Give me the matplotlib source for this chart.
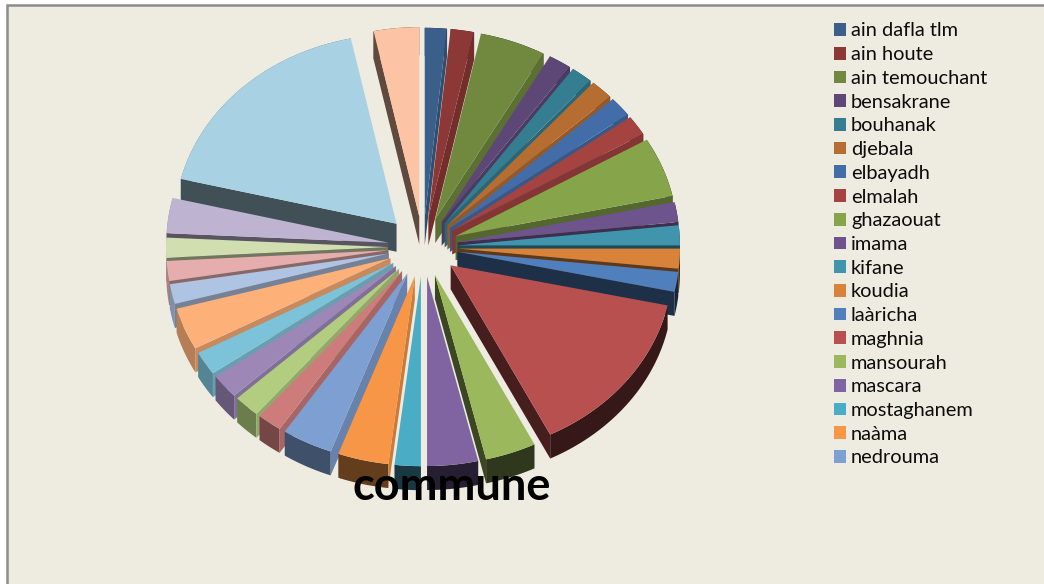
import numpy as np
import matplotlib
matplotlib.use("Agg")
import matplotlib.pyplot as plt
from matplotlib.colors import to_rgb
from matplotlib.patches import Polygon, Rectangle

W, H = 1044, 584

legend_names = ["ain dafla tlm", "ain houte", "ain temouchant", "bensakrane", "bouhanak",
                "djebala", "elbayadh", "elmalah", "ghazaouat", "imama", "kifane", "koudia",
                "laàricha", "maghnia", "mansourah", "mascara", "mostaghanem", "naàma", "nedrouma"]
values = [1.6, 1.7, 4.8, 1.7, 1.6, 1.7, 1.7, 1.7, 5.1, 1.7, 1.7, 1.7, 1.7, 14.2, 3.7, 3.7, 1.9, 3.7, 3.7,
          1.8, 1.9, 2.1, 2.0, 3.6, 1.7, 1.7, 1.7, 3.0, 17.9, 3.3]
colors = ["#3a5f8b", "#8c3836", "#71893f", "#5c4776", "#357d91", "#b66d31",
          "#426da9", "#a44340", "#86a44a", "#6e548d", "#4095ad", "#d88339",
          "#4f7fbc", "#b85050", "#9bb85c", "#8064a2", "#4bacc6", "#f79646",
          "#7e9fd2", "#cd7b7b", "#b2cd7f", "#9c87b7", "#7cc2d9", "#fdb078",
          "#afc3e3", "#e5adad", "#d1dfb0", "#beb3d1", "#a8d2e3", "#fcc4a4"]

K = 0.853           # vertical squash of the tilted pie
RADIUS = 222.0      # px
CX, CY = 423.0, 247.0
DEPTH = 24.0        # px

explode = [35.0] * 30   # px
explode[28] = 38.0
explode[29] = 36.0

fig = plt.figure(figsize=(W / 100, H / 100), dpi=100, facecolor="white")
fig.add_artist(Rectangle((6.5 / W, -0.1), 1.2, 1.1 - 5 / H, transform=fig.transFigure,
                         facecolor="#eeece1", edgecolor="#8c8c8c", linewidth=1.8, zorder=-5))

ax = fig.add_axes([0, 0, 1, 1])
ax.patch.set_alpha(0)
wedges, _ = ax.pie(values, colors=colors, explode=explode, startangle=90, counterclock=False,
                   radius=RADIUS, center=(CX, (H - CY) / K))
ax.set_aspect("auto")
ax.set_xlim(0, W)
ax.set_ylim(0, H / K)
ax.set_axis_off()


def shaded(c, s):
    return tuple(np.array(to_rgb(c)) * s)


for w in wedges:
    mid = np.radians((w.theta1 + w.theta2) / 2)
    order = -np.sin(mid)
    w.set_zorder(10 + 3 * order + 0.002)
    w.set_linewidth(0)
    depth = (DEPTH + (4 if np.sin(mid) > 0.3 and np.cos(mid) < 0.3 else 0)) / K
    base = w.get_facecolor()[:3]
    cx, cy = w.center

    t = np.radians(np.linspace(w.theta1, w.theta2, 60))
    ax_, ay_ = cx + w.r * np.cos(t), cy + w.r * np.sin(t)
    pts = np.r_[np.c_[ax_, ay_], np.c_[ax_, ay_ - depth][::-1]]
    rim = np.clip(0.30 + 0.45 * max(0.0, -np.cos(mid)), 0.3, 0.8)
    ax.add_patch(Polygon(pts, closed=True, facecolor=shaded(base, rim), linewidth=0,
                         zorder=10 + 3 * order))

    for theta, sign in ((w.theta1, 1), (w.theta2, -1)):
        a = np.radians(theta)
        nx, ny = sign * np.sin(a), -sign * np.cos(a)
        if ny >= 0:
            continue
        ex, ey = cx + w.r * np.cos(a), cy + w.r * np.sin(a)
        quad = [(cx, cy), (ex, ey), (ex, ey - depth), (cx, cy - depth)]
        s = float(np.clip(0.5 + 0.6 * nx, 0.38, 0.82))
        ax.add_patch(Polygon(quad, closed=True, facecolor=shaded(base, s), linewidth=0,
                             zorder=10 + 3 * order + 0.001))

ax.text(452 / W, 1 - 487 / H, "commune", transform=ax.transAxes, ha="center", va="center",
        family="Lato", fontweight="bold", fontsize=32.5, color="black", zorder=30)

leg = ax.legend(wedges[:len(legend_names)], legend_names, loc="upper left",
                bbox_to_anchor=(834 / W, 1 - 22.5 / H), bbox_transform=ax.transAxes,
                frameon=False, prop={"family": "Lato", "size": 14.4}, labelcolor="#0c0c0c",
                handlelength=0.6, handleheight=0.6, handletextpad=0.25,
                labelspacing=0.336, borderpad=0, borderaxespad=0)
leg.set_zorder(40)

fig.savefig("out.png", dpi=100)
